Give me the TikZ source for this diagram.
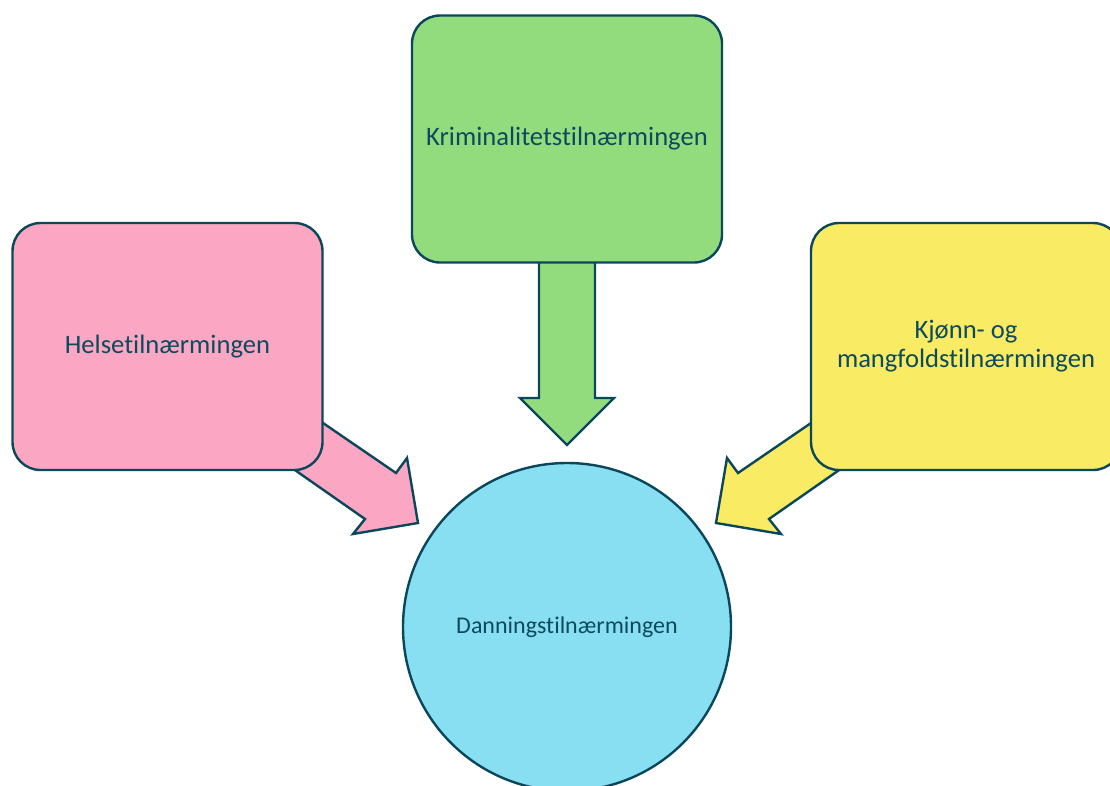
\documentclass[tikz,border=0pt]{standalone}
\usepackage{fontspec}
\setmainfont[Ligatures={NoCommon}]{Carlito}
\definecolor{edgec}{HTML}{0B475A}
\definecolor{txtc}{HTML}{0E4A5E}
\definecolor{greenf}{HTML}{93DC7E}
\definecolor{pinkf}{HTML}{FBA7C3}
\definecolor{yellowf}{HTML}{F9EB63}
\definecolor{cyanf}{HTML}{87DFF1}
\begin{document}
\begin{tikzpicture}[x=1pt,y=-1pt,
  box/.style={draw=edgec, line width=2.4pt, rounded corners=28pt, minimum width=310pt, minimum height=247pt, text=txtc, font=\fontsize{26.6}{29}\selectfont, align=center, inner sep=0pt},
  blockarrow/.style={draw=edgec, line width=2.4pt, line join=miter}]
\useasboundingbox (0,0) rectangle (1110,785);
% block arrows
\draw[blockarrow, fill=greenf] (539,240) -- (539,398) -- (520,398) -- (567,445) -- (614,398) -- (595,398) -- (595,240) -- cycle;
\draw[blockarrow, fill=pinkf] (286.5,398) -- (396,473) -- (407,458) -- (418,523) -- (353,534) -- (365,519) -- (260.5,446) -- cycle;
\draw[blockarrow, fill=yellowf] (847.5,398) -- (738,473) -- (727,458) -- (716,523) -- (781,534) -- (769,519) -- (873.5,446) -- cycle;
% boxes
\node[box, fill=greenf] (krim) at (567,139) {Kriminalitetstilnærmingen};
\node[box, fill=pinkf] (helse) at (167.5,346.5) {Helsetilnærmingen};
\node[box, fill=yellowf] (kjonn) at (966,346.5) {Kjønn- og\\mangfoldstilnærmingen};
\node[circle, draw=edgec, line width=2.4pt, fill=cyanf, minimum size=328pt, inner sep=0pt, text=txtc, font=\fontsize{24}{28}\selectfont] (dann) at (567,627) {Danningstilnærmingen};
\end{tikzpicture}
\end{document}
